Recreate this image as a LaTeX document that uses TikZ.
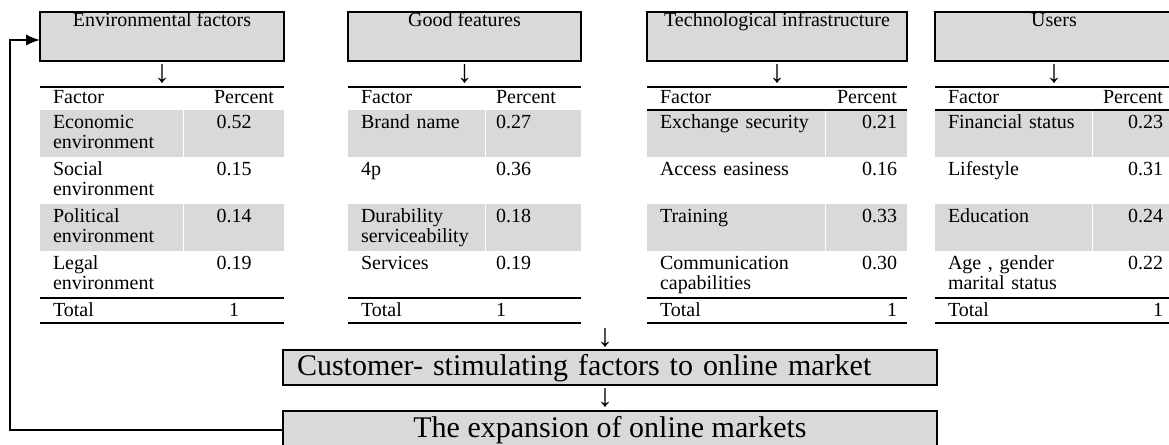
\documentclass[tikz,border=0pt]{standalone}
\usepackage{fontspec}
\setmainfont{Liberation Serif}
\usetikzlibrary{positioning}
\usetikzlibrary{arrows.meta}
\definecolor{cellgray}{RGB}{217,217,217}
\newcommand{\cellfont}{\fontsize{15}{15}\selectfont}
\newcommand{\boxfont}{\fontsize{22.5}{27}\selectfont}
\newcommand{\signfont}{\fontsize{24}{24}\selectfont}
\tikzset{
	hdrbox/.style={draw,line width=1.5pt,fill=cellgray,outer sep=0pt,inner sep=0.75pt,text height=9.75pt,text depth=25.5pt,anchor=north west},
	mainbox/.style={draw,line width=1.5pt,fill=cellgray,outer sep=0pt,font=\boxfont,anchor=north west},
	downsign/.style={inner sep=0pt,outer sep=0pt,font=\signfont},
	fcell/.style={outer sep=0pt,inner xsep=9.75pt,inner ysep=1.5pt,align=left,text height=12pt,text depth=20.25pt},
	pcell/.style={outer sep=0pt,inner xsep=7.5pt,inner ysep=1.5pt,text height=12pt,text depth=20.25pt},
	headrow/.style={text height=10.5pt,text depth=3.75pt},
	totalrow/.style={text depth=3.75pt},
	shaded/.style={fill=cellgray},
	rule/.style={line width=1.5pt},
	c1f/.style={fcell,text width=87.75pt},
	c1p/.style={pcell,text width=60pt,align=center},
	c2f/.style={fcell,text width=83.25pt},
	c2p/.style={pcell,text width=56.25pt,align=left},
	c3f/.style={fcell,text width=114pt},
	c3p/.style={pcell,text width=45.75pt,align=right},
	c4f/.style={fcell,text width=98.25pt},
	c4p/.style={pcell,text width=45pt,align=right}
}
\begin{document}
\begin{tikzpicture}[>={Latex[length=10.5pt,width=8.5pt]},x=0.75pt,y=-0.75pt,font=\cellfont]
	\useasboundingbox (0,0) rectangle (1169,444);
	\clip (0,0) rectangle (1169,444);

	\node [hdrbox,minimum width=183pt] at (40,12) (env) {Environmental factors};
	\node [downsign,below=3pt of env] (env_dn) {↓};
	\node [c1f,headrow,anchor=north west] at (40,87) (env_hd) {Factor};
	\node [c1p,headrow,align=right,right=0.75pt of env_hd] (env_hd_p) {Percent};
	\node [c1f,shaded,below=0pt of env_hd] (env_r1) {Economic\\environment};
	\node [c1p,shaded,right=0.75pt of env_r1] (env_r1_p) {0.52};
	\node [c1f,below=0pt of env_r1] (env_r2) {Social\\environment};
	\node [c1p,right=0.75pt of env_r2] (env_r2_p) {0.15};
	\node [c1f,shaded,below=0pt of env_r2] (env_r3) {Political\\environment};
	\node [c1p,shaded,right=0.75pt of env_r3] (env_r3_p) {0.14};
	\node [c1f,below=0pt of env_r3] (env_r4) {Legal\\environment};
	\node [c1p,right=0.75pt of env_r4] (env_r4_p) {0.19};
	\node [c1f,totalrow,below=0pt of env_r4] (env_tot) {Total};
	\node [c1p,totalrow,right=0.75pt of env_tot] (env_tot_p) {1};
	\draw[rule] (env_hd.north west) -- (env_hd_p.north east);
	\draw[rule] (env_tot.north west) -- (env_tot_p.north east);
	\draw[rule] (env_tot.south west) -- (env_tot_p.south east);

	\node [hdrbox,minimum width=174.75pt] at (348,12) (good) {Good features};
	\node [downsign,below=3pt of good] (good_dn) {↓};
	\node [c2f,headrow,anchor=north west] at (348,87) (good_hd) {Factor};
	\node [c2p,headrow,right=0.75pt of good_hd] (good_hd_p) {Percent};
	\node [c2f,shaded,below=0pt of good_hd] (good_r1) {Brand name};
	\node [c2p,shaded,right=0.75pt of good_r1] (good_r1_p) {0.27};
	\node [c2f,below=0pt of good_r1] (good_r2) {4p};
	\node [c2p,right=0.75pt of good_r2] (good_r2_p) {0.36};
	\node [c2f,shaded,below=0pt of good_r2] (good_r3) {Durability\\serviceability};
	\node [c2p,shaded,right=0.75pt of good_r3] (good_r3_p) {0.18};
	\node [c2f,below=0pt of good_r3] (good_r4) {Services};
	\node [c2p,right=0.75pt of good_r4] (good_r4_p) {0.19};
	\node [c2f,totalrow,below=0pt of good_r4] (good_tot) {Total};
	\node [c2p,totalrow,right=0.75pt of good_tot] (good_tot_p) {1};
	\draw[rule] (good_hd.north west) -- (good_hd_p.north east);
	\draw[rule] (good_tot.north west) -- (good_tot_p.north east);
	\draw[rule] (good_tot.south west) -- (good_tot_p.south east);

	\node [hdrbox,minimum width=195pt] at (647,12) (tech) {Technological infrastructure};
	\node [downsign,below=3pt of tech] (tech_dn) {↓};
	\node [c3f,headrow,anchor=north west] at (647,87) (tech_hd) {Factor};
	\node [c3p,headrow,right=0.75pt of tech_hd] (tech_hd_p) {Percent};
	\node [c3f,shaded,below=0pt of tech_hd] (tech_r1) {Exchange security};
	\node [c3p,shaded,right=0.75pt of tech_r1] (tech_r1_p) {0.21};
	\node [c3f,below=0pt of tech_r1] (tech_r2) {Access easiness};
	\node [c3p,right=0.75pt of tech_r2] (tech_r2_p) {0.16};
	\node [c3f,shaded,below=0pt of tech_r2] (tech_r3) {Training};
	\node [c3p,shaded,right=0.75pt of tech_r3] (tech_r3_p) {0.33};
	\node [c3f,below=0pt of tech_r3] (tech_r4) {Communication\\capabilities};
	\node [c3p,right=0.75pt of tech_r4] (tech_r4_p) {0.30};
	\node [c3f,totalrow,below=0pt of tech_r4] (tech_tot) {Total};
	\node [c3p,totalrow,right=0.75pt of tech_tot] (tech_tot_p) {1};
	\draw[rule] (tech_hd.north west) -- (tech_hd_p.north east);
	\draw[rule] (tech_hd.south west) -- (tech_hd_p.south east);
	\draw[rule] (tech_tot.north west) -- (tech_tot_p.north east);
	\draw[rule] (tech_tot.south west) -- (tech_tot_p.south east);

	\node [hdrbox,minimum width=178.5pt] at (935,12) (users) {Users};
	\node [downsign,below=3pt of users] (users_dn) {↓};
	\node [c4f,headrow,anchor=north west] at (935,87) (users_hd) {Factor};
	\node [c4p,headrow,right=0.75pt of users_hd] (users_hd_p) {Percent};
	\node [c4f,shaded,below=0pt of users_hd] (users_r1) {Financial status};
	\node [c4p,shaded,right=0.75pt of users_r1] (users_r1_p) {0.23};
	\node [c4f,below=0pt of users_r1] (users_r2) {Lifestyle};
	\node [c4p,right=0.75pt of users_r2] (users_r2_p) {0.31};
	\node [c4f,shaded,below=0pt of users_r2] (users_r3) {Education};
	\node [c4p,shaded,right=0.75pt of users_r3] (users_r3_p) {0.24};
	\node [c4f,below=0pt of users_r3] (users_r4) {Age , gender\\marital status};
	\node [c4p,right=0.75pt of users_r4] (users_r4_p) {0.22};
	\node [c4f,totalrow,below=0pt of users_r4] (users_tot) {Total};
	\node [c4p,totalrow,right=0.75pt of users_tot] (users_tot_p) {1};
	\draw[rule] (users_hd.north west) -- (users_hd_p.north east);
	\draw[rule] (users_hd.south west) -- (users_hd_p.south east);
	\draw[rule] (users_tot.north west) -- (users_tot_p.north east);
	\draw[rule] (users_tot.south west) -- (users_tot_p.south east);

	\node [mainbox,text width=469.5pt,align=left,inner xsep=10.5pt,inner ysep=0.75pt,text height=18pt,text depth=6.75pt] at (283,350) (cust) {Customer- stimulating factors to online market};
	\node [downsign,above=2.25pt of cust,xshift=-3.75pt] (cust_dn) {↓};
	\node [downsign,below=3pt of cust,xshift=-3.75pt] (expand_dn) {↓};
	\node [mainbox,minimum width=490.5pt,inner sep=0.75pt,text height=18.75pt,text depth=8.25pt] at (283,411) (expand) {The expansion of online markets};

	\coordinate (fb) at (10,430);
	\draw[->,line width=1.5pt] (expand.west) -- (expand.west -| fb) |- ([yshift=-2.6pt]env.west);
\end{tikzpicture}
\end{document}
